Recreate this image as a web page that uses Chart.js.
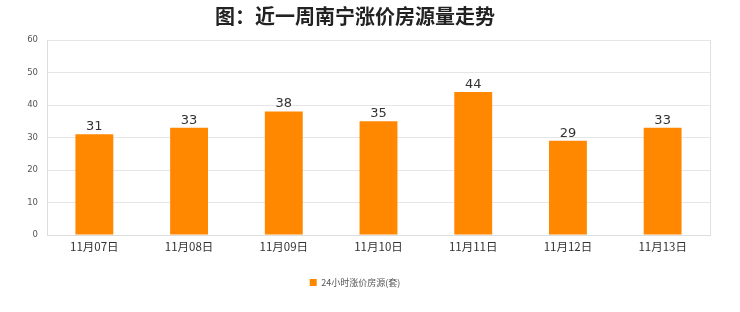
<!DOCTYPE html>
<html>
<head>
<meta charset="utf-8">
<script src="https://cdn.jsdelivr.net/npm/chart.js@4"></script>
<style>
  html, body { margin: 0; padding: 0; background: #fff; }
  #wrap { width: 740px; height: 312px; position: relative; }
</style>
</head>
<body>
<div id="wrap"><canvas id="chart"></canvas></div>
<script>
const categories = ["11月07日", "11月08日", "11月09日", "11月10日", "11月11日", "11月12日", "11月13日"];
const seriesValues = [31, 33, 38, 35, 44, 29, 33];
const seriesName = "24小时涨价房源(套)";
const yTicks = [0, 10, 20, 30, 40, 50, 60];

// value labels above bars
const valueLabels = {
  id: "valueLabels",
  afterDatasetsDraw(chart) {
    const ctx = chart.ctx;
    const meta = chart.getDatasetMeta(0);
    ctx.save();
    ctx.font = "13px 'DejaVu Sans', sans-serif";
    ctx.fillStyle = "#333";
    ctx.textAlign = "center";
    ctx.textBaseline = "bottom";
    meta.data.forEach((bar, i) => {
      ctx.fillText(seriesValues[i], bar.x, bar.y - 1);
    });
    ctx.restore();
  }
};

// right edge line of plot area
const rightEdge = {
  id: "rightEdge",
  beforeDatasetsDraw(chart) {
    const { ctx, chartArea } = chart;
    ctx.save();
    ctx.strokeStyle = "#e0e0e0";
    ctx.lineWidth = 1;
    ctx.beginPath();
    ctx.moveTo(Math.round(chartArea.right) + 0.5, chartArea.top);
    ctx.lineTo(Math.round(chartArea.right) + 0.5, chartArea.bottom);
    ctx.stroke();
    ctx.restore();
  }
};

new Chart(document.getElementById("chart"), {
  type: "bar",
  data: {
    labels: categories,
    datasets: [{
      label: seriesName,
      data: seriesValues,
      backgroundColor: "#ff8800",
      categoryPercentage: 0.4,
      barPercentage: 1.0
    }]
  },
  options: {
    responsive: true,
    maintainAspectRatio: false,
    animation: false,
    layout: { padding: { left: 0, right: 30, top: 0, bottom: 15 } },
    plugins: {
      title: {
        display: true,
        text: "图：近一周南宁涨价房源量走势",
        color: "#222",
        font: { family: "'Noto Sans CJK SC', sans-serif", size: 20, weight: "bold" },
        padding: { top: 4, bottom: 12 }
      },
      legend: {
        display: true,
        position: "bottom",
        labels: {
          boxWidth: 7,
          boxHeight: 7,
          color: "#555",
          font: { family: "'Noto Sans CJK SC', sans-serif", size: 9 },
          padding: 10
        }
      },
      tooltip: { enabled: false }
    },
    scales: {
      x: {
        grid: { display: false, drawTicks: false },
        border: { color: "#ddd" },
        afterFit(axis) { axis.height = 33; },
        ticks: {
          color: "#333",
          font: { family: "'Noto Sans CJK SC', sans-serif", size: 11.5 },
          padding: 5,
          maxRotation: 0
        }
      },
      y: {
        min: 0,
        max: 60,
        afterBuildTicks(axis) {
          axis.ticks = yTicks.map(v => ({ value: v }));
        },
        afterFit(axis) { axis.width = 47; },
        grid: { color: "#e6e6e6", drawTicks: false },
        border: { color: "#ddd" },
        ticks: {
          color: "#555",
          font: { family: "'DejaVu Sans', sans-serif", size: 8.5 },
          padding: 9
        }
      }
    }
  },
  plugins: [valueLabels, rightEdge]
});
</script>
</body>
</html>
